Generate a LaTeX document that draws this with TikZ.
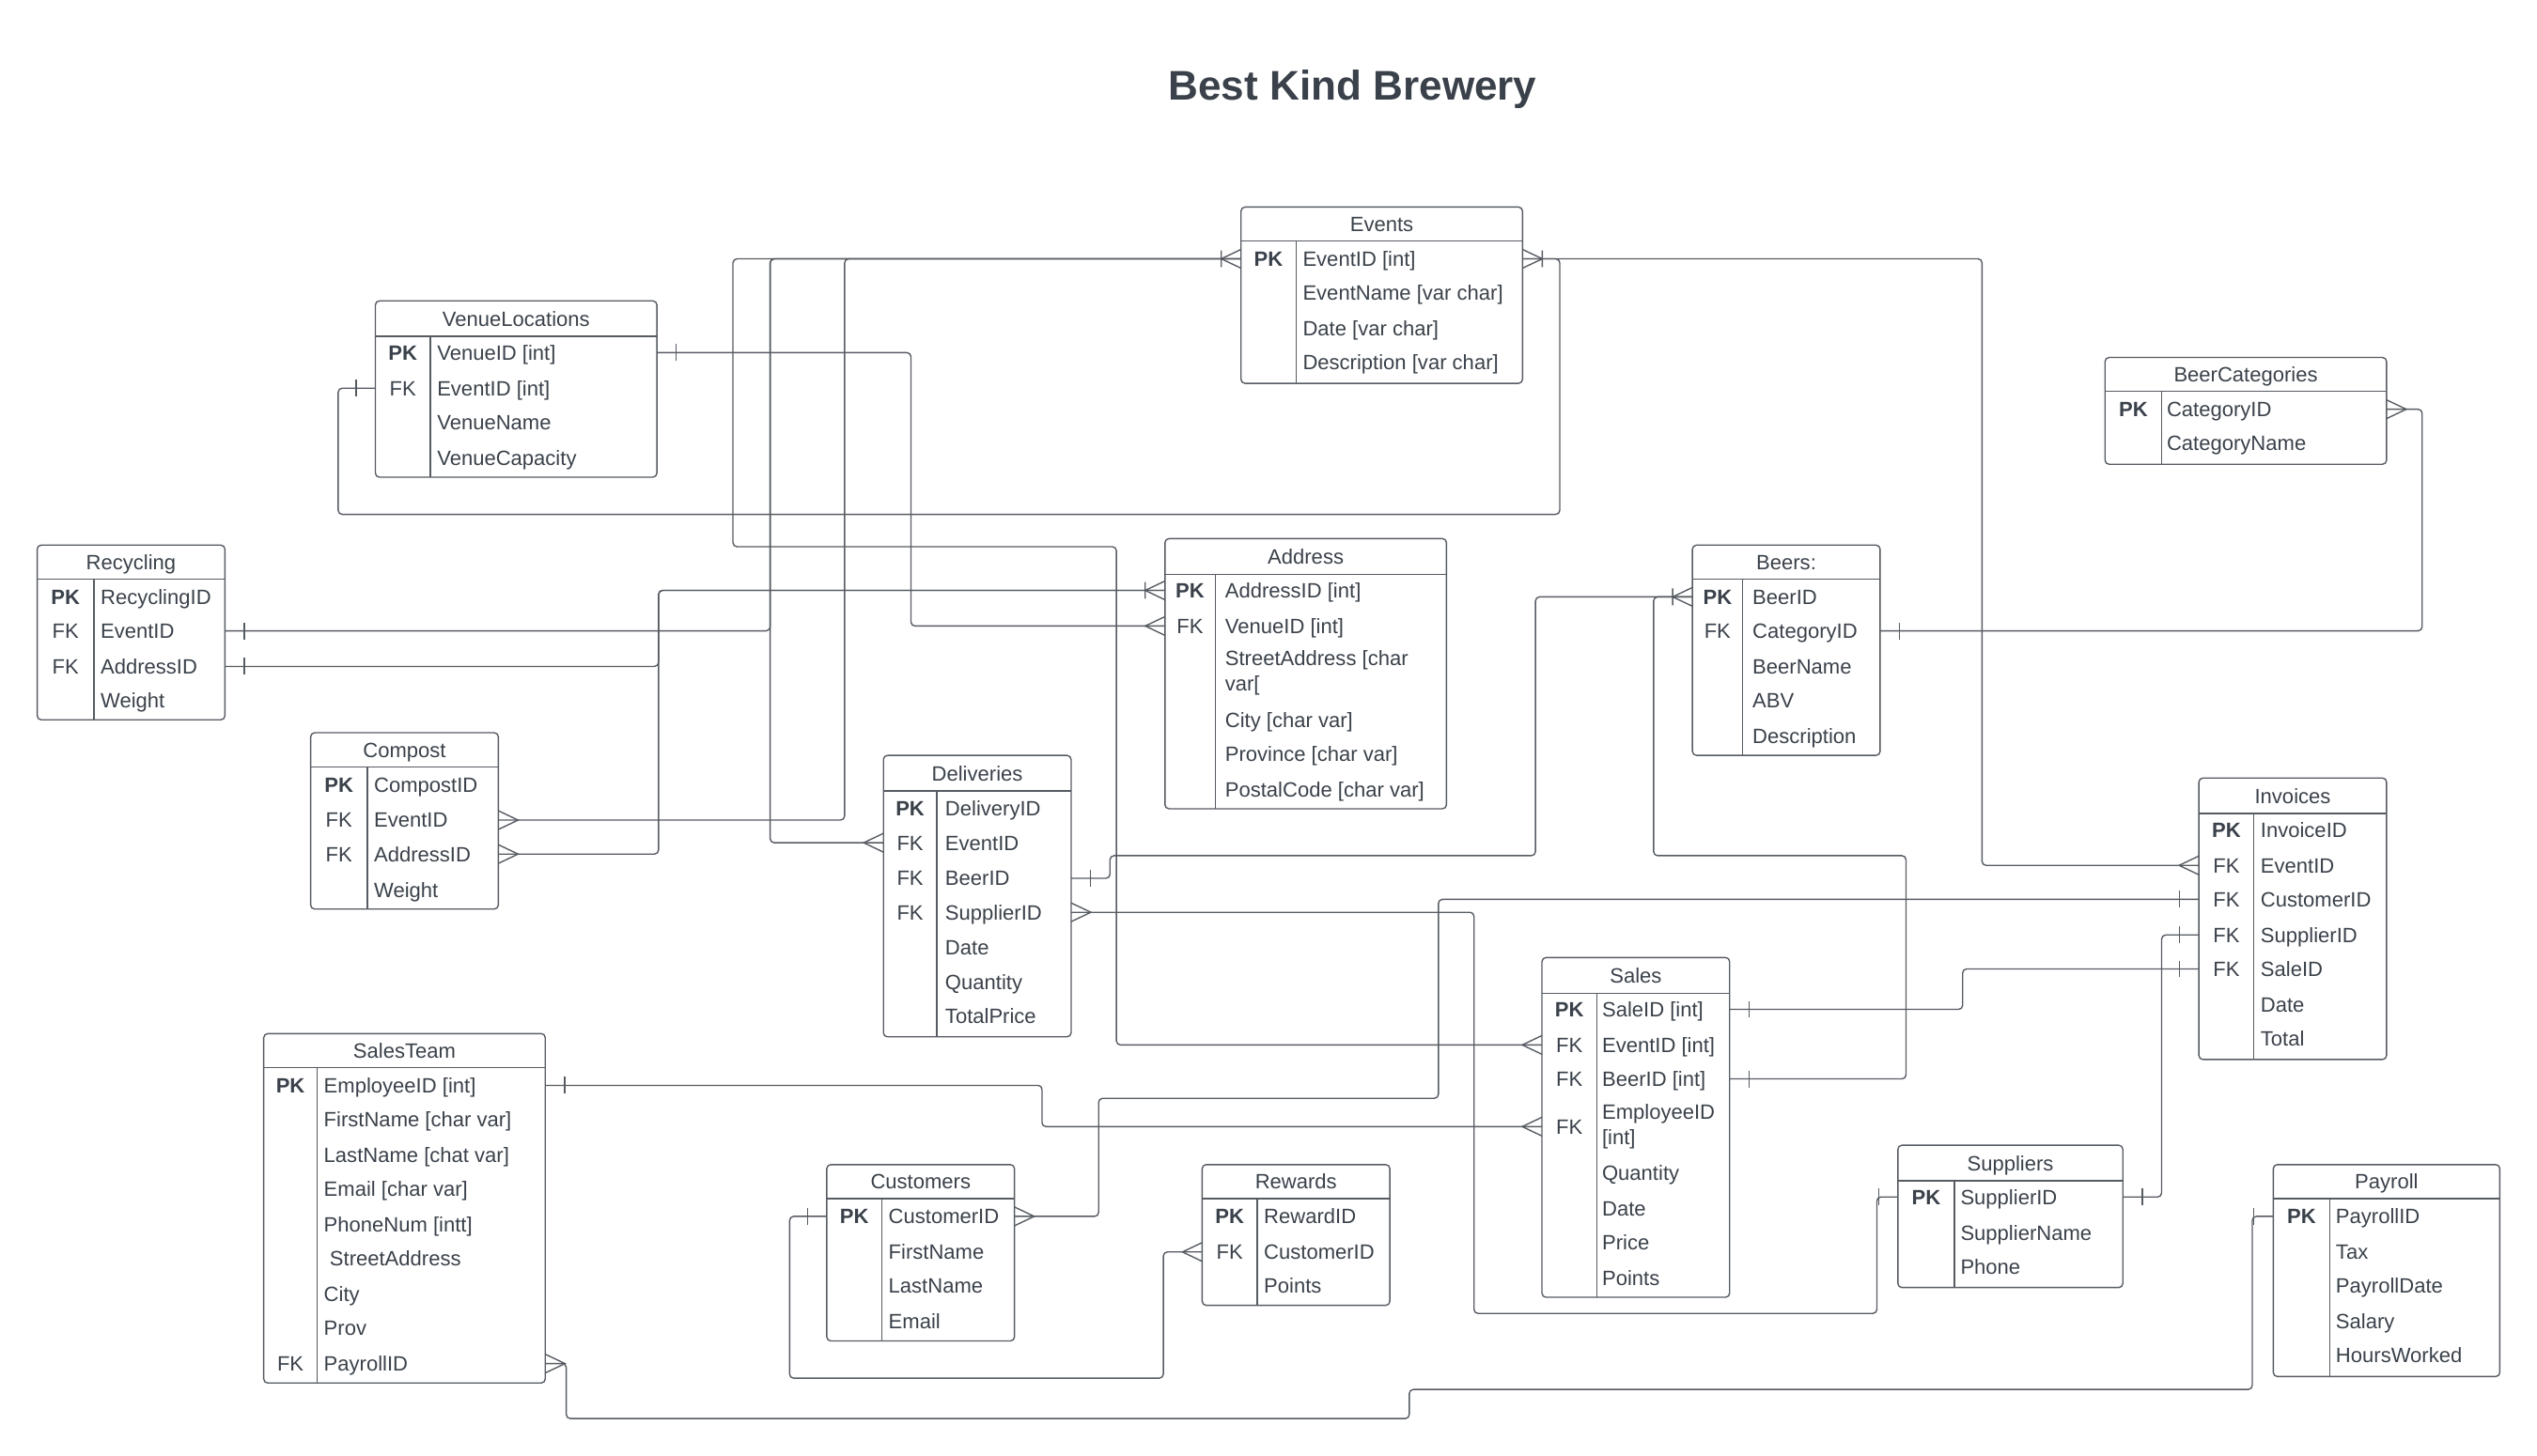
\documentclass[tikz,border=0pt]{standalone}
\usepackage{fontspec}
\setmainfont{Liberation Sans}
\definecolor{ink}{HTML}{3A414A}
\definecolor{rule}{HTML}{565B62}
\tikzset{
  tbl/.style={draw=rule, line width=0.8pt, rounded corners=2.5pt, anchor=north west,
    inner sep=0pt, outer sep=0pt},
  tline/.style={draw=rule, line width=0.8pt},
  rowtext/.style={text=ink, font=\fontsize{12.8}{16}\selectfont, inner sep=0pt,
    execute at begin node={\rule{0pt}{11.9pt}},
    execute at end node={\rule[-2.7pt]{0pt}{2.7pt}}},
  tbltitle/.style={rowtext},
  keycol/.style={rowtext},
  attr/.style={rowtext, anchor=west, align=left},
  conn/.style={draw=rule, line width=0.8pt, rounded corners=2.5pt},
  many/.pic={\draw[conn, sharp corners] (0,-5.8) -- (-12.2,0) -- (0,5.8);},
  one/.pic={\draw[conn, sharp corners] (-12,-5.2) -- (-12,5.2);},
  onemany/.pic={\draw[conn, sharp corners] (0,-5.8) -- (-12.2,0) -- (0,5.8) (-12.2,-5.2) -- (-12.2,5.2);},
}
\begin{document}
\begin{tikzpicture}[x=1pt, y=-1pt]
        \useasboundingbox (0,0) rectangle (1568,900);
        \node[text=ink, font=\bfseries\fontsize{25.6}{30}\selectfont] (title) at (836,55) {Best Kind Brewery};
        %% Events
        \node[tbl, minimum width=174pt, minimum height=109pt] (ev) at (767,128) {};
        \draw[tline] (767,149) -- (941,149) (801,149) -- (801,237);
        \node[tbltitle] (evt) at (854,138.5) {Events};
        \foreach \k/\a/\y [count=\i] in {\textbf{PK}/EventID [int]/160, /EventName [var char]/181,
                /Date [var char]/203, /Description [var char]/224}
            {\node[keycol] (evk\i) at (784,\y) {\k};
             \node[attr] (ev\i) at (805,\y) {\a};}
        %% VenueLocations
        \node[tbl, minimum width=174pt, minimum height=109pt] (vl) at (232,186) {};
        \draw[tline] (232,208) -- (406,208) (266,208) -- (266,295);
        \node[tbltitle] (vlt) at (319,197) {VenueLocations};
        \foreach \k/\a/\y [count=\i] in {\textbf{PK}/VenueID [int]/218, FK/EventID [int]/240,
                /VenueName/261, /VenueCapacity/283}
            {\node[keycol] (vlk\i) at (249,\y) {\k};
             \node[attr] (vl\i) at (270,\y) {\a};}
        %% Recycling
        \node[tbl, minimum width=116pt, minimum height=108pt] (rc) at (23,337) {};
        \draw[tline] (23,358) -- (139,358) (58,358) -- (58,445);
        \node[tbltitle] (rct) at (81,347.5) {Recycling};
        \foreach \k/\a/\y [count=\i] in {\textbf{PK}/RecyclingID/369, FK/EventID/390,
                FK/AddressID/412, /Weight/433}
            {\node[keycol] (rck\i) at (40.5,\y) {\k};
             \node[attr] (rc\i) at (62,\y) {\a};}
        %% Compost
        \node[tbl, minimum width=116pt, minimum height=109pt] (cp) at (192,453) {};
        \draw[tline] (192,474) -- (308,474) (227,474) -- (227,562);
        \node[tbltitle] (cpt) at (250,463.5) {Compost};
        \foreach \k/\a/\y [count=\i] in {\textbf{PK}/CompostID/485, FK/EventID/507,
                FK/AddressID/528, /Weight/550}
            {\node[keycol] (cpk\i) at (209.5,\y) {\k};
             \node[attr] (cp\i) at (231,\y) {\a};}
        %% Address
        \node[tbl, minimum width=174pt, minimum height=167pt] (ad) at (720,333) {};
        \draw[tline] (720,355) -- (894,355) (751,355) -- (751,500);
        \node[tbltitle] (adt) at (807,344) {Address};
        \foreach \k/\a/\y [count=\i] in {\textbf{PK}/AddressID [int]/365, FK/VenueID [int]/387,
                /StreetAddress [char\\var[/416, /City [char var]/445, /Province [char var]/466,
                /PostalCode [char var]/488}
            {\node[keycol] (adk\i) at (735.5,\y) {\k};
             \node[attr] (ad\i) at (757,\y) {\a};}
        %% Deliveries
        \node[tbl, minimum width=116pt, minimum height=174pt] (dl) at (546,467) {};
        \draw[tline] (546,489) -- (662,489) (579,489) -- (579,641);
        \node[tbltitle] (dlt) at (604,478) {Deliveries};
        \foreach \k/\a/\y [count=\i] in {\textbf{PK}/DeliveryID/500, FK/EventID/521, FK/BeerID/543,
                FK/SupplierID/564, /Date/586, /Quantity/607, /TotalPrice/628}
            {\node[keycol] (dlk\i) at (562.5,\y) {\k};
             \node[attr] (dl\i) at (584,\y) {\a};}
        %% BeerCategories
        \node[tbl, minimum width=174pt, minimum height=66pt] (bc) at (1301,221) {};
        \draw[tline] (1301,242) -- (1475,242) (1336,242) -- (1336,287);
        \node[tbltitle] (bct) at (1388,231.5) {BeerCategories};
        \foreach \k/\a/\y [count=\i] in {\textbf{PK}/CategoryID/253, /CategoryName/274}
            {\node[keycol] (bck\i) at (1318.5,\y) {\k};
             \node[attr] (bc\i) at (1339,\y) {\a};}
        %% Beers
        \node[tbl, minimum width=116pt, minimum height=130pt] (br) at (1046,337) {};
        \draw[tline] (1046,358) -- (1162,358) (1077,358) -- (1077,467);
        \node[tbltitle] (brt) at (1104,347.5) {Beers:};
        \foreach \k/\a/\y [count=\i] in {\textbf{PK}/BeerID/369, FK/CategoryID/390, /BeerName/412,
                /ABV/433, /Description/455}
            {\node[keycol] (brk\i) at (1061.5,\y) {\k};
             \node[attr] (br\i) at (1083,\y) {\a};}
        %% Invoices
        \node[tbl, minimum width=116pt, minimum height=174pt] (iv) at (1359,481) {};
        \draw[tline] (1359,503) -- (1475,503) (1393,503) -- (1393,655);
        \node[tbltitle] (ivt) at (1417,492) {Invoices};
        \foreach \k/\a/\y [count=\i] in {\textbf{PK}/InvoiceID/513, FK/EventID/535, FK/CustomerID/556,
                FK/SupplierID/578, FK/SaleID/599, /Date/621, /Total/642}
            {\node[keycol] (ivk\i) at (1376,\y) {\k};
             \node[attr] (iv\i) at (1397,\y) {\a};}
        %% Sales
        \node[tbl, minimum width=116pt, minimum height=210pt] (sl) at (953,592) {};
        \draw[tline] (953,614) -- (1069,614) (987,614) -- (987,802);
        \node[tbltitle] (slt) at (1011,603) {Sales};
        \foreach \k/\a/\y [count=\i] in {\textbf{PK}/SaleID [int]/624, FK/EventID [int]/646,
                FK/BeerID [int]/667, FK/EmployeeID\\{}[int]/696.5, /Quantity/725, /Date/747,
                /Price/768, /Points/790}
            {\node[keycol] (slk\i) at (970,\y) {\k};
             \node[attr] (sl\i) at (990,\y) {\a};}
        %% SalesTeam
        \node[tbl, minimum width=174pt, minimum height=216pt] (st) at (163,639) {};
        \draw[tline] (163,660) -- (337,660) (196,660) -- (196,855);
        \node[tbltitle] (stt) at (250,649.5) {SalesTeam};
        \foreach \k/\a/\y [count=\i] in {\textbf{PK}/EmployeeID [int]/671, /FirstName [char var]/692,
                /LastName [chat var]/714, /Email [char var]/735, /PhoneNum [intt]/757,
                /\hspace*{3.6pt}StreetAddress/778, /City/800, /Prov/821, FK/PayrollID/843}
            {\node[keycol] (stk\i) at (179.5,\y) {\k};
             \node[attr] (st\i) at (200,\y) {\a};}
        %% Customers
        \node[tbl, minimum width=116pt, minimum height=109pt] (cu) at (511,720) {};
        \draw[tline] (511,741) -- (627,741) (545,741) -- (545,829);
        \node[tbltitle] (cut) at (569,730.5) {Customers};
        \foreach \k/\a/\y [count=\i] in {\textbf{PK}/CustomerID/752, /FirstName/774, /LastName/795,
                /Email/817}
            {\node[keycol] (cuk\i) at (528,\y) {\k};
             \node[attr] (cu\i) at (549,\y) {\a};}
        %% Rewards
        \node[tbl, minimum width=116pt, minimum height=87pt] (rw) at (743,720) {};
        \draw[tline] (743,741) -- (859,741) (777,741) -- (777,807);
        \node[tbltitle] (rwt) at (801,730.5) {Rewards};
        \foreach \k/\a/\y [count=\i] in {\textbf{PK}/RewardID/752, FK/CustomerID/774, /Points/795}
            {\node[keycol] (rwk\i) at (760,\y) {\k};
             \node[attr] (rw\i) at (781,\y) {\a};}
        %% Suppliers
        \node[tbl, minimum width=139pt, minimum height=88pt] (su) at (1173,708) {};
        \draw[tline] (1173,730) -- (1312,730) (1208,730) -- (1208,796);
        \node[tbltitle] (sut) at (1242.5,719) {Suppliers};
        \foreach \k/\a/\y [count=\i] in {\textbf{PK}/SupplierID/740, /SupplierName/762, /Phone/783}
            {\node[keycol] (suk\i) at (1190.5,\y) {\k};
             \node[attr] (su\i) at (1211.5,\y) {\a};}
        %% Payroll
        \node[tbl, minimum width=140pt, minimum height=131pt] (pr) at (1405,720) {};
        \draw[tline] (1405,741) -- (1545,741) (1440,741) -- (1440,851);
        \node[tbltitle] (prt) at (1475,730.5) {Payroll};
        \foreach \k/\a/\y [count=\i] in {\textbf{PK}/PayrollID/752, /Tax/774, /PayrollDate/795,
                /Salary/817, /HoursWorked/838}
            {\node[keycol] (prk\i) at (1422.5,\y) {\k};
             \node[attr] (pr\i) at (1443.5,\y) {\a};}
        %% Relationships
        \draw[conn] (ev1 -| ev.west) pic{onemany} -- (453,160) -- (453,338) -- (690,338)
            -- (690,646) -- (sl2 -| sl.west) pic{many};
        \draw[conn] (ev1 -| ev.west) -- (476,160) -- (476,390) -- (rc2 -| rc.east) pic[rotate=180]{one};
        \draw[conn] (ev1 -| ev.west) -- (476,160) -- (476,521) -- (dl2 -| dl.west) pic{many};
        \draw[conn] (ev1 -| ev.west) -- (522,160) -- (522,507) -- (cp2 -| cp.east) pic[rotate=180]{many};
        \draw[conn] (ev1 -| ev.east) pic[rotate=180]{onemany} -- (1225,160) -- (1225,535)
            -- (iv2 -| iv.west) pic{many};
        \draw[conn] (ev1 -| ev.east) -- (964,160) -- (964,318) -- (209,318) -- (209,240)
            -- (vl2 -| vl.west) pic{one};
        \draw[conn] (vl1 -| vl.east) pic[rotate=180]{one} -- (563,218) -- (563,387)
            -- (ad2 -| ad.west) pic{many};
        \draw[conn] (ad1 -| ad.west) pic{onemany} -- (407,365) -- (407,412)
            -- (rc3 -| rc.east) pic[rotate=180]{one};
        \draw[conn] (ad1 -| ad.west) -- (407,365) -- (407,528) -- (cp3 -| cp.east) pic[rotate=180]{many};
        \draw[conn] (dl3 -| dl.east) pic[rotate=180]{one} -- (686,543) -- (686,529) -- (949,529)
            -- (949,369) -- (br1 -| br.west) pic{onemany};
        \draw[conn] (br1 -| br.west) -- (1022,369) -- (1022,529) -- (1178,529) -- (1178,667)
            -- (sl3 -| sl.east) pic[rotate=180]{one};
        \draw[conn] (dl4 -| dl.east) pic[rotate=180]{many} -- (911,564) -- (911,812) -- (1160,812)
            -- (1160,740) -- (su1 -| su.west) pic{one};
        \draw[conn] (iv3 -| iv.west) pic{one} -- (889,556) -- (889,679) -- (679,679) -- (679,752)
            -- (cu1 -| cu.east) pic[rotate=180]{many};
        \draw[conn] (cu1 -| cu.west) pic{one} -- (488,752) -- (488,852) -- (719,852) -- (719,774)
            -- (rw2 -| rw.west) pic{many};
        \draw[conn] (st1 -| st.east) pic[rotate=180]{one} -- (644,671) -- (644,696.5)
            -- (sl4 -| sl.west) pic{many};
        \draw[conn] (st9 -| st.east) pic[rotate=180]{many} -- (350,843) -- (350,877) -- (871,877)
            -- (871,859) -- (1392,859) -- (1392,752) -- (pr1 -| pr.west) pic{one};
        \draw[conn] (sl1 -| sl.east) pic[rotate=180]{one} -- (1213,624) -- (1213,599)
            -- (iv5 -| iv.west) pic{one};
        \draw[conn] (iv4 -| iv.west) pic{one} -- (1336,578) -- (1336,740)
            -- (su1 -| su.east) pic[rotate=180]{one};
        \draw[conn] (br2 -| br.east) pic[rotate=180]{one} -- (1497,390) -- (1497,253)
            -- (bc1 -| bc.east) pic[rotate=180]{many};
    \end{tikzpicture}
\end{document}
